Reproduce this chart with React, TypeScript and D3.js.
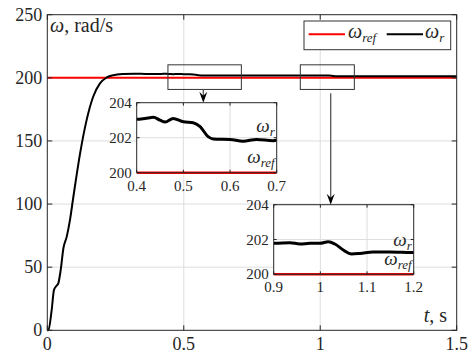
import React from "react";
import * as d3 from "d3";

// ---- data ----
const startT = [0, 0.004, 0.016, 0.0245, 0.034, 0.04, 0.049, 0.059, 0.071, 0.083, 0.095, 0.12, 0.144, 0.168, 0.193, 0.218, 0.242, 0.278, 0.32, 0.36];
const startW = [0, 0, 16, 32, 35.3, 37, 47.7, 65, 74, 87.3, 105, 140, 166.5, 185, 195.6, 200.3, 202.1, 203, 203.3, 203.1];

const inset1T = [0.4, 0.418, 0.436, 0.45, 0.461, 0.478, 0.5, 0.521, 0.536, 0.553, 0.564, 0.6, 0.628, 0.657, 0.692, 0.7];
const inset1W = [203.05, 203.1, 203.17, 203.0, 202.9, 203.1, 202.91, 202.86, 202.63, 202.06, 201.93, 201.9, 201.8, 201.9, 201.83, 201.85];

const midT = [0.75, 0.8, 0.85];
const midW = [201.85, 201.8, 201.75];

const inset2T = [0.9, 0.903, 0.935, 0.956, 0.978, 0.999, 1.017, 1.031, 1.049, 1.067, 1.085, 1.113, 1.149, 1.185, 1.2];
const inset2W = [201.78, 201.78, 201.82, 201.74, 201.78, 201.78, 201.87, 201.74, 201.4, 201.17, 201.2, 201.28, 201.28, 201.26, 201.25];

const tailT = [1.25, 1.3, 1.4, 1.5];
const tailW = [201.2, 201.2, 201.15, 201.2];

const wRef = 200;

const mainXTicks = [0, 0.5, 1, 1.5];
const mainXTickLabels = ["0", "0.5", "1", "1.5"];
const mainYTicks = [0, 50, 100, 150, 200, 250];

const inset1XTicks = [0.4, 0.5, 0.6, 0.7];
const inset2XTicks = [0.9, 1.0, 1.1, 1.2];
const inset2XTickLabels = ["0.9", "1", "1.1", "1.2"];
const insetYTicks = [200, 202, 204];

// zoom regions marked on the main plot [t0, t1, w0, w1]
const zoomRegion1 = [0.442, 0.711, 190.8, 210.3];
const zoomRegion2 = [0.927, 1.125, 190.8, 210.3];

const FONT = "Liberation Serif";
const TXT = "#262626";
const GRID = "#dedede";

type Pt = [number, number];
const zip = (t: number[], w: number[]): Pt[] => t.map((v, i) => [v, w[i]]);

const allPts: Pt[] = [
  ...zip(startT, startW),
  ...zip(inset1T, inset1W),
  ...zip(midT, midW),
  ...zip(inset2T, inset2W),
  ...zip(tailT, tailW),
];

const tStyle = { fontFamily: FONT };

function Inset({ x0, x1, y0, y1, dom, ticks, labels, id, rPos, refPos }: any) {
  const xs = d3.scaleLinear().domain(dom).range([x0, x1]);
  const ys = d3.scaleLinear().domain([200, 204]).range([y1, y0]);
  const line = d3
    .line<Pt>()
    .x((d) => xs(d[0]))
    .y((d) => ys(d[1]))
    .curve(d3.curveMonotoneX);
  const pts = allPts.filter((d) => d[0] >= dom[0] - 0.05 && d[0] <= dom[1] + 0.05);
  return (
    <g>
      <defs>
        <clipPath id={id}>
          <rect x={x0} y={y0 - 2} width={x1 - x0} height={y1 - y0 + 4} />
        </clipPath>
      </defs>
      <rect x={x0} y={y0} width={x1 - x0} height={y1 - y0} fill="#fff" />
      {ticks.slice(1, -1).map((t: number) => (
        <line key={"gx" + t} x1={xs(t)} x2={xs(t)} y1={y0} y2={y1} stroke={GRID} strokeWidth={1} />
      ))}
      <line x1={x0} x2={x1} y1={ys(202)} y2={ys(202)} stroke={GRID} strokeWidth={1} />
      <g clipPath={`url(#${id})`}>
        <path d={line(pts) || ""} fill="none" stroke="#000" strokeWidth={3} />
        <line x1={x0} x2={x1} y1={ys(wRef)} y2={ys(wRef)} stroke="#ff0000" strokeWidth={2.5} />
      </g>
      <rect x={x0} y={y0} width={x1 - x0} height={y1 - y0} fill="none" stroke={TXT} strokeWidth={1} />
      {ticks.map((t: number, i: number) => (
        <g key={"tx" + t}>
          <line x1={xs(t)} x2={xs(t)} y1={y1} y2={y1 - 3} stroke={TXT} />
          <line x1={xs(t)} x2={xs(t)} y1={y0} y2={y0 + 3} stroke={TXT} />
          <text x={xs(t)} y={y1 + 18} textAnchor="middle" fontSize={15} style={tStyle} fill={TXT}>
            {labels[i]}
          </text>
        </g>
      ))}
      {insetYTicks.map((v) => (
        <g key={"ty" + v}>
          <line x1={x0} x2={x0 + 3} y1={ys(v)} y2={ys(v)} stroke={TXT} />
          <line x1={x1} x2={x1 - 3} y1={ys(v)} y2={ys(v)} stroke={TXT} />
          <text x={x0 - 5} y={ys(v) + 5} textAnchor="end" fontSize={15} style={tStyle} fill={TXT}>
            {v}
          </text>
        </g>
      ))}
      <text x={x1 - 2} y={rPos} textAnchor="end" fontSize={19} style={tStyle} fontStyle="italic" fill={TXT}>
        ω<tspan fontSize={13} dy={4}>r</tspan>
      </text>
      <text x={x1 - 2} y={refPos} textAnchor="end" fontSize={19} style={tStyle} fontStyle="italic" fill={TXT}>
        ω<tspan fontSize={13} dy={4}>ref</tspan>
      </text>
    </g>
  );
}

function Arrow({ x, y1, y2 }: { x: number; y1: number; y2: number }) {
  return (
    <g>
      <line x1={x} x2={x} y1={y1} y2={y2 - 6} stroke="#555" strokeWidth={1.3} />
      <path d={`M${x - 4},${y2 - 11} L${x},${y2} L${x + 4},${y2 - 11} L${x},${y2 - 7} Z`} fill="#000" />
    </g>
  );
}

export default function App() {
  const W = 470,
    H = 353;
  const L = 47.3,
    R = 456.7,
    T = 14.7,
    B = 330.3;
  const x = d3.scaleLinear().domain([0, 1.5]).range([L, R]);
  const y = d3.scaleLinear().domain([0, 250]).range([B, T]);
  const line = d3
    .line<Pt>()
    .x((d) => x(d[0]))
    .y((d) => y(d[1]))
    .curve(d3.curveMonotoneX);

  const zr = (r: number[]) => ({
    x: x(r[0]),
    y: y(r[3]),
    w: x(r[1]) - x(r[0]),
    h: y(r[2]) - y(r[3]),
  });
  const z1 = zr(zoomRegion1);
  const z2 = zr(zoomRegion2);

  return (
    <svg width={W} height={H} style={{ position: "absolute", left: 0, top: 0, fontFamily: FONT }}>
      <rect x={0} y={0} width={W} height={H} fill="#fff" />
      {/* grid */}
      {mainXTicks.slice(1, -1).map((t) => (
        <line key={"gx" + t} x1={x(t)} x2={x(t)} y1={T} y2={B} stroke={GRID} />
      ))}
      {mainYTicks.slice(1, -1).map((v) => (
        <line key={"gy" + v} x1={L} x2={R} y1={y(v)} y2={y(v)} stroke={GRID} />
      ))}
      {/* data */}
      <line x1={x(0)} x2={x(1.5)} y1={y(wRef)} y2={y(wRef)} stroke="#ff0000" strokeWidth={2} />
      <path d={line(allPts) || ""} fill="none" stroke="#000" strokeWidth={2} />
      {/* frame and ticks */}
      <rect x={L} y={T} width={R - L} height={B - T} fill="none" stroke={TXT} strokeWidth={1} />
      {mainXTicks.map((t, i) => (
        <g key={"tx" + t}>
          <line x1={x(t)} x2={x(t)} y1={B} y2={B - 5} stroke={TXT} />
          <line x1={x(t)} x2={x(t)} y1={T} y2={T + 5} stroke={TXT} />
          <text x={x(t)} y={B + 20} textAnchor="middle" fontSize={18} style={tStyle} fill={TXT}>
            {mainXTickLabels[i]}
          </text>
        </g>
      ))}
      {mainYTicks.map((v) => (
        <g key={"ty" + v}>
          <line x1={L} x2={L + 5} y1={y(v)} y2={y(v)} stroke={TXT} />
          <line x1={R} x2={R - 5} y1={y(v)} y2={y(v)} stroke={TXT} />
          <text x={L - 5} y={y(v) + 6} textAnchor="end" fontSize={18} style={tStyle} fill={TXT}>
            {v}
          </text>
        </g>
      ))}
      {/* zoom region boxes */}
      <rect x={z1.x} y={z1.y} width={z1.w} height={z1.h} fill="none" stroke="#333" strokeWidth={1} />
      <rect x={z2.x} y={z2.y} width={z2.w} height={z2.h} fill="none" stroke="#333" strokeWidth={1} />
      <Arrow x={203.3} y1={z1.y + z1.h} y2={102.7} />
      <Arrow x={330.7} y1={93.3} y2={204.7} />
      {/* insets */}
      <Inset x0={136.7} x1={276.7} y0={102.7} y1={172.7} dom={[0.4, 0.7]} ticks={inset1XTicks} labels={inset1XTicks.map(String)} id="clip1" rPos={131.5} refPos={163} />
      <Inset x0={273.7} x1={413.7} y0={204.7} y1={274.3} dom={[0.9, 1.2]} ticks={inset2XTicks} labels={inset2XTickLabels} id="clip2" rPos={245.5} refPos={265} />
      {/* axis labels */}
      <text x={50} y={31.5} fontSize={20} style={tStyle} fill={TXT}>
        <tspan fontStyle="italic">ω</tspan>, rad/s
      </text>
      <text x={447} y={322} textAnchor="end" fontSize={20} style={tStyle} fill={TXT}>
        <tspan fontStyle="italic">t</tspan>, s
      </text>
      {/* legend */}
      <rect x={304} y={21} width={146.7} height={28.7} fill="#fff" stroke="#333" strokeWidth={1} />
      <line x1={308.7} x2={345} y1={34.3} y2={34.3} stroke="#ff0000" strokeWidth={2} />
      <text x={348} y={38} fontSize={20} style={tStyle} fontStyle="italic" fill={TXT}>
        ω<tspan fontSize={13} dy={4}>ref</tspan>
      </text>
      <line x1={386.7} x2={423} y1={34.3} y2={34.3} stroke="#000" strokeWidth={2} />
      <text x={425} y={38} fontSize={20} style={tStyle} fontStyle="italic" fill={TXT}>
        ω<tspan fontSize={13} dy={4}>r</tspan>
      </text>
    </svg>
  );
}
